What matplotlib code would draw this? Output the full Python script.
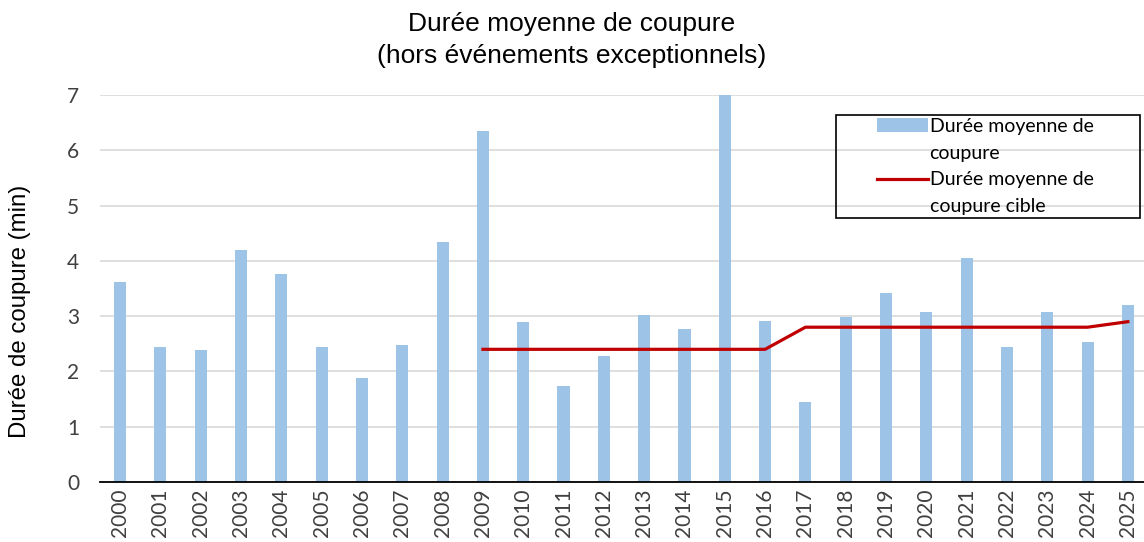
import numpy as np
import matplotlib.pyplot as plt
from matplotlib.patches import Rectangle
from matplotlib.lines import Line2D

years = [str(y) for y in range(2000, 2026)]
duree = [3.62, 2.45, 2.38, 4.20, 3.77, 2.44, 1.89, 2.48, 4.35, 6.35,
         2.90, 1.73, 2.28, 3.02, 2.77, 7.00, 2.91, 1.45, 2.98, 3.42,
         3.07, 4.06, 2.44, 3.08, 2.53, 3.20]
cible_years = [str(y) for y in range(2009, 2026)]
cible = [2.4, 2.4, 2.4, 2.4, 2.4, 2.4, 2.4, 2.4,
         2.8, 2.8, 2.8, 2.8, 2.8, 2.8, 2.8, 2.8, 2.9]

W, H = 1144, 542
fig = plt.figure(figsize=(W / 100, H / 100), dpi=100)
ax = fig.add_axes([0.0874, 0.1107, 0.9126, 0.714])

x = np.arange(len(years))
xc = np.array([years.index(y) for y in cible_years])
bars = ax.bar(x, duree, width=0.3, color='#9DC3E6', zorder=2)
line, = ax.plot(xc, cible, color='#C00000', linewidth=2.3, zorder=3)

ax.set_xlim(-0.5, 25.4)
ax.set_ylim(0, 7)
ax.set_yticks(range(8))
ax.set_xticks(x)
ax.set_xticklabels(years, rotation=90, fontsize=15, family='Lato')
for t in ax.get_yticklabels():
    t.set_fontsize(15)
    t.set_family('Lato')
ax.yaxis.grid(True, color='#D9D9D9', linewidth=1.2, zorder=0)
ax.set_axisbelow(True)
for s in ['top', 'right', 'left']:
    ax.spines[s].set_visible(False)
ax.spines['bottom'].set_color('black')
ax.spines['bottom'].set_linewidth(1.3)
ax.tick_params(axis='both', length=0, colors='#404040')
ax.tick_params(axis='y', pad=15)
ax.tick_params(axis='x', pad=5)

ax.set_ylabel('Durée de coupure (min)', fontsize=17.3, family='Liberation Sans')
ax.yaxis.set_label_coords(-0.066, 0.442)
fig.suptitle('Durée moyenne de coupure\n(hors événements exceptionnels)', fontsize=19,
             family='Liberation Sans', y=0.978, linespacing=1.4)

# legend rows: the handle sits on the first line of each label, like Excel does
blank = Line2D([], [], linestyle='none')
handles = [bars, blank, line, blank]
labels = ['Durée moyenne de', 'coupure', 'Durée moyenne de', 'coupure cible']
leg = ax.legend(handles, labels, loc='upper left', bbox_to_anchor=(877 / W, 1 - 118 / H),
                bbox_transform=fig.transFigure, prop={'family': 'Lato', 'size': 14},
                frameon=False, borderpad=0, borderaxespad=0,
                handlelength=2.6, handletextpad=0.1, labelspacing=0.5)
fig.patches.append(Rectangle((836 / W, 1 - 218 / H), 304 / W, 103 / H,
                             transform=fig.transFigure, fill=False,
                             edgecolor='black', linewidth=1.2))

fig.savefig('out.png', dpi=100)
